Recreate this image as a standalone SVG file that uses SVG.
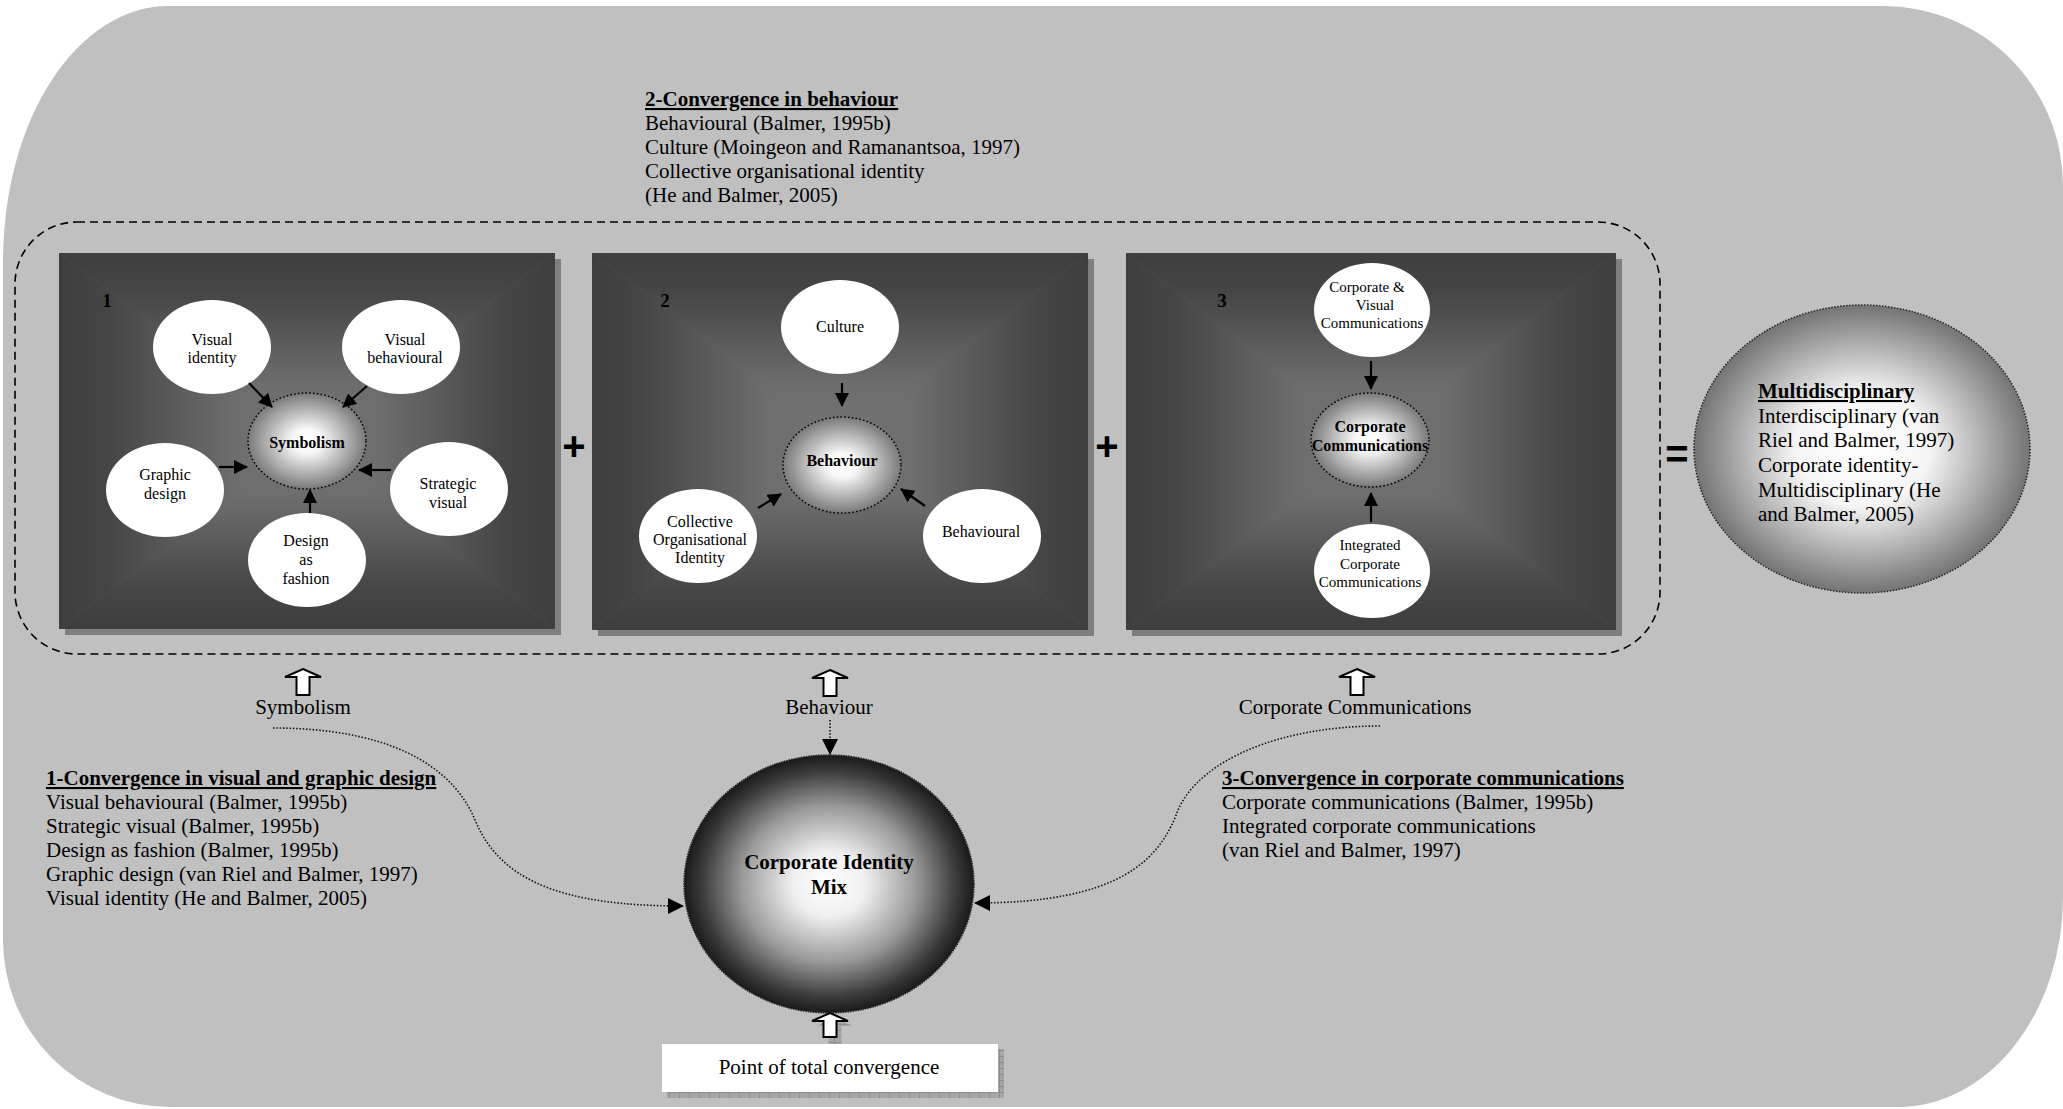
<svg xmlns="http://www.w3.org/2000/svg" width="2063" height="1109" viewBox="0 0 2063 1109">
<style>
.t{font-family:"Liberation Serif","Times New Roman",serif;fill:#000}
.s15{font-size:15px}.s16{font-size:16px}.s19{font-size:19px}.s21{font-size:21px}
.b{font-weight:bold}.u{text-decoration:underline}.m{text-anchor:middle}
.sym{font-family:"Liberation Sans",Arial,sans-serif;font-weight:bold;font-size:40px;text-anchor:middle;fill:#000}
.bub{fill:#fff}
.dotc{stroke:#000;stroke-width:1.5;stroke-dasharray:1.6 2.2}
.arr{stroke:#000;stroke-width:2.2;fill:none;marker-end:url(#ah)}
.dcon{stroke:#111;stroke-width:1.6;stroke-dasharray:1.5 1.8;fill:none;marker-end:url(#ah2)}
.blk{fill:#fff;stroke:#000;stroke-width:2;stroke-linejoin:miter}
.shadow{fill:#7f7f7f}
</style>
<defs>
<linearGradient id="gT" x1="0" y1="0" x2="0" y2="1"><stop offset="0" stop-color="#3e3e3e"/><stop offset="0.2" stop-color="#454545"/><stop offset="0.7" stop-color="#6d6d6d"/><stop offset="1" stop-color="#757575"/></linearGradient>
<linearGradient id="gB" x1="0" y1="1" x2="0" y2="0"><stop offset="0" stop-color="#3e3e3e"/><stop offset="0.2" stop-color="#454545"/><stop offset="0.7" stop-color="#6d6d6d"/><stop offset="1" stop-color="#757575"/></linearGradient>
<linearGradient id="gL" x1="0" y1="0" x2="1" y2="0"><stop offset="0" stop-color="#3e3e3e"/><stop offset="0.2" stop-color="#454545"/><stop offset="0.7" stop-color="#6d6d6d"/><stop offset="1" stop-color="#757575"/></linearGradient>
<linearGradient id="gR" x1="1" y1="0" x2="0" y2="0"><stop offset="0" stop-color="#3e3e3e"/><stop offset="0.2" stop-color="#454545"/><stop offset="0.7" stop-color="#6d6d6d"/><stop offset="1" stop-color="#757575"/></linearGradient>
<radialGradient id="gCore" cx="0.5" cy="0.5" r="0.5"><stop offset="0" stop-color="#ffffff"/><stop offset="0.25" stop-color="#f8f8f8"/><stop offset="1" stop-color="#7a7a7a"/></radialGradient>
<radialGradient id="gMulti" cx="0.5" cy="0.5" r="0.5"><stop offset="0" stop-color="#ffffff"/><stop offset="0.4" stop-color="#f5f5f5"/><stop offset="1" stop-color="#747474"/></radialGradient>
<radialGradient id="gCIM" cx="0.5" cy="0.5" r="0.5"><stop offset="0" stop-color="#ffffff"/><stop offset="0.25" stop-color="#f0f0f0"/><stop offset="0.6" stop-color="#9a9a9a"/><stop offset="0.88" stop-color="#3a3a3a"/><stop offset="1" stop-color="#1a1a1a"/></radialGradient>
<pattern id="hatch" width="10" height="6" patternUnits="userSpaceOnUse"><rect width="10" height="6" fill="#a6a6a6"/><path d="M0,0.5 H10 M9.5,0 V6" stroke="#8e8e8e" stroke-width="1"/></pattern>
<marker id="ah" viewBox="0 0 14 14" refX="13" refY="7" markerWidth="14" markerHeight="14" markerUnits="userSpaceOnUse" orient="auto"><path d="M0,0 L14,7 L0,14 Z" fill="#000"/></marker>
<marker id="ah2" viewBox="0 0 16 16" refX="15" refY="8" markerWidth="16" markerHeight="16" markerUnits="userSpaceOnUse" orient="auto"><path d="M0,0 L16,8 L0,16 Z" fill="#000"/></marker>
</defs>

<g id="background">
<path d="M168,6 L1883,6 A180,180 0 0 1 2063,186 L2063,897 A165,210 0 0 1 1898,1107 L170,1107 A167,167 0 0 1 3,940 L3,261 A165,255 0 0 1 168,6 Z" fill="#c0c0c0"/>
</g>

<g id="convergence-frame">
<rect x="15" y="222" width="1645" height="432" rx="62" ry="62" fill="none" stroke="#000" stroke-width="1.6" stroke-dasharray="8 5"/>
</g>

<g id="panel1">
<rect class="shadow" x="65" y="259" width="496" height="376"/>
<rect x="59" y="253" width="496" height="376" fill="#5a5a5a"/>
<polygon points="59,253 555,253 307,441" fill="url(#gT)"/>
<polygon points="59,629 555,629 307,441" fill="url(#gB)"/>
<polygon points="59,253 59,629 307,441" fill="url(#gL)"/>
<polygon points="555,253 555,629 307,441" fill="url(#gR)"/>
<text class="t s19 b m" x="107" y="307">1</text>
</g>

<g id="panel2">
<rect class="shadow" x="598" y="259" width="496" height="377"/>
<rect x="592" y="253" width="496" height="377" fill="#5a5a5a"/>
<polygon points="592,253 1088,253 840,441.5" fill="url(#gT)"/>
<polygon points="592,630 1088,630 840,441.5" fill="url(#gB)"/>
<polygon points="592,253 592,630 840,441.5" fill="url(#gL)"/>
<polygon points="1088,253 1088,630 840,441.5" fill="url(#gR)"/>
<text class="t s19 b m" x="665" y="307">2</text>
</g>

<g id="panel3">
<rect class="shadow" x="1132" y="259" width="490" height="377"/>
<rect x="1126" y="253" width="490" height="377" fill="#5a5a5a"/>
<polygon points="1126,253 1616,253 1371,441.5" fill="url(#gT)"/>
<polygon points="1126,630 1616,630 1371,441.5" fill="url(#gB)"/>
<polygon points="1126,253 1126,630 1371,441.5" fill="url(#gL)"/>
<polygon points="1616,253 1616,630 1371,441.5" fill="url(#gR)"/>
<text class="t s19 b m" x="1222" y="307">3</text>
</g>

<g id="node-visual-identity">
<ellipse class="bub" cx="212" cy="347" rx="59" ry="47"/>
<text class="t s16 m" x="212" y="345">Visual</text>
<text class="t s16 m" x="212" y="363">identity</text>
</g>
<g id="node-visual-behavioural">
<ellipse class="bub" cx="401" cy="347" rx="59" ry="47"/>
<text class="t s16 m" x="405" y="345">Visual</text>
<text class="t s16 m" x="405" y="363">behavioural</text>
</g>
<g id="node-symbolism">
<ellipse cx="307" cy="441" rx="59" ry="48" fill="url(#gCore)" class="dotc"/>
<text class="t s16 b m" x="307" y="448">Symbolism</text>
</g>
<g id="node-graphic-design">
<ellipse class="bub" cx="165" cy="490" rx="59" ry="47"/>
<text class="t s16 m" x="165" y="480">Graphic</text>
<text class="t s16 m" x="165" y="499">design</text>
</g>
<g id="node-strategic-visual">
<ellipse class="bub" cx="449" cy="489" rx="59" ry="47"/>
<text class="t s16 m" x="448" y="489">Strategic</text>
<text class="t s16 m" x="448" y="508">visual</text>
</g>
<g id="node-design-fashion">
<ellipse class="bub" cx="307" cy="560" rx="59" ry="47"/>
<text class="t s16 m" x="306" y="546">Design</text>
<text class="t s16 m" x="306" y="565">as</text>
<text class="t s16 m" x="306" y="584">fashion</text>
</g>

<g id="node-culture">
<ellipse class="bub" cx="840" cy="327" rx="59" ry="47"/>
<text class="t s16 m" x="840" y="332">Culture</text>
</g>
<g id="node-behaviour">
<ellipse cx="842" cy="465" rx="59" ry="48" fill="url(#gCore)" class="dotc"/>
<text class="t s16 b m" x="842" y="466">Behaviour</text>
</g>
<g id="node-collective">
<ellipse class="bub" cx="698" cy="536" rx="59" ry="47"/>
<text class="t s16 m" x="700" y="527">Collective</text>
<text class="t s16 m" x="700" y="545">Organisational</text>
<text class="t s16 m" x="700" y="563">Identity</text>
</g>
<g id="node-behavioural">
<ellipse class="bub" cx="982" cy="536" rx="59" ry="47"/>
<text class="t s16 m" x="981" y="537">Behavioural</text>
</g>

<g id="node-corp-visual">
<ellipse class="bub" cx="1372" cy="310" rx="58" ry="47"/>
<text class="t s15 m" x="1367" y="292">Corporate &amp;</text>
<text class="t s15 m" x="1375" y="310">Visual</text>
<text class="t s15 m" x="1372" y="328">Communications</text>
</g>
<g id="node-corp-comm">
<ellipse cx="1370" cy="440" rx="59" ry="47" fill="url(#gCore)" class="dotc"/>
<text class="t s16 b m" x="1370" y="432">Corporate</text>
<text class="t s16 b m" x="1370" y="451">Communications</text>
</g>
<g id="node-integrated">
<ellipse class="bub" cx="1372" cy="571" rx="58" ry="47"/>
<text class="t s15 m" x="1370" y="550">Integrated</text>
<text class="t s15 m" x="1370" y="569">Corporate</text>
<text class="t s15 m" x="1370" y="587">Communications</text>
</g>

<g id="operators">
<text class="sym" x="574" y="460">+</text>
<text class="sym" x="1107" y="460">+</text>
<text class="sym" x="1677" y="468">=</text>
</g>

<g id="node-multidisciplinary">
<ellipse cx="1862" cy="449" rx="168" ry="144" fill="url(#gMulti)" stroke="#222" stroke-width="1.5" stroke-dasharray="1.5 1.5"/>
<text class="t s21 b u" x="1758" y="398">Multidisciplinary</text>
<text class="t s21" x="1758" y="423">Interdisciplinary (van</text>
<text class="t s21" x="1758" y="447">Riel and Balmer, 1997)</text>
<text class="t s21" x="1758" y="472">Corporate identity-</text>
<text class="t s21" x="1758" y="497">Multidisciplinary (He</text>
<text class="t s21" x="1758" y="521">and Balmer, 2005)</text>
</g>

<g id="text-behaviour-convergence">
<text class="t s21 b u" x="645" y="106">2-Convergence in behaviour</text>
<text class="t s21" x="645" y="130">Behavioural (Balmer, 1995b)</text>
<text class="t s21" x="645" y="154">Culture (Moingeon and Ramanantsoa, 1997)</text>
<text class="t s21" x="645" y="178">Collective organisational identity</text>
<text class="t s21" x="645" y="202">(He and Balmer, 2005)</text>
</g>

<g id="text-visual-convergence">
<text class="t s21 b u" x="46" y="785">1-Convergence in visual and graphic design</text>
<text class="t s21" x="46" y="809">Visual behavioural (Balmer, 1995b)</text>
<text class="t s21" x="46" y="833">Strategic visual (Balmer, 1995b)</text>
<text class="t s21" x="46" y="857">Design as fashion (Balmer, 1995b)</text>
<text class="t s21" x="46" y="881">Graphic design (van Riel and Balmer, 1997)</text>
<text class="t s21" x="46" y="905">Visual identity (He and Balmer, 2005)</text>
</g>

<g id="text-comm-convergence">
<text class="t s21 b u" x="1222" y="785">3-Convergence in corporate communications</text>
<text class="t s21" x="1222" y="809">Corporate communications (Balmer, 1995b)</text>
<text class="t s21" x="1222" y="833">Integrated corporate communications</text>
<text class="t s21" x="1222" y="857">(van Riel and Balmer, 1997)</text>
</g>

<g id="node-symbolism-label">
<path class="blk" transform="translate(303,669)" d="M0,0 L18,8 L6.5,8 L6.5,26 L-6.5,26 L-6.5,8 L-18,8 Z"/>
<text class="t s21 m" x="303" y="714">Symbolism</text>
</g>
<g id="node-behaviour-label">
<path class="blk" transform="translate(830,670)" d="M0,0 L18,8 L6.5,8 L6.5,26 L-6.5,26 L-6.5,8 L-18,8 Z"/>
<text class="t s21 m" x="829" y="714">Behaviour</text>
</g>
<g id="node-corpcomm-label">
<path class="blk" transform="translate(1357,669)" d="M0,0 L18,8 L6.5,8 L6.5,26 L-6.5,26 L-6.5,8 L-18,8 Z"/>
<text class="t s21 m" x="1355" y="714">Corporate Communications</text>
</g>

<g id="node-cim">
<ellipse cx="829" cy="884" rx="145" ry="129" fill="url(#gCIM)" stroke="#2a2a2a" stroke-width="1.5" stroke-dasharray="1.5 1"/>
<text class="t s21 b m" x="829" y="869">Corporate Identity</text>
<text class="t s21 b m" x="829" y="894">Mix</text>
</g>

<g id="node-total-convergence">
<path transform="translate(835,1018)" d="M0,0 L18,8 L6.5,8 L6.5,26 L-6.5,26 L-6.5,8 L-18,8 Z" fill="url(#hatch)"/>
<path class="blk" transform="translate(830,1013)" d="M0,0 L18,8 L6.5,8 L6.5,24 L-6.5,24 L-6.5,8 L-18,8 Z"/>
<rect x="667" y="1049" width="337" height="49" fill="url(#hatch)"/>
<rect x="662" y="1044" width="336" height="48" fill="#fff"/>
<text class="t s21 m" x="829" y="1074">Point of total convergence</text>
</g>

<g id="connectors">
<line class="arr" x1="249" y1="383" x2="272" y2="407"/>
<line class="arr" x1="367" y1="386" x2="343" y2="407"/>
<line class="arr" x1="219" y1="467" x2="247" y2="467"/>
<line class="arr" x1="391" y1="470" x2="359" y2="470"/>
<line class="arr" x1="310" y1="513" x2="310" y2="490"/>
<line class="arr" x1="842" y1="383" x2="842" y2="406"/>
<line class="arr" x1="758" y1="508" x2="781" y2="494"/>
<line class="arr" x1="925" y1="506" x2="901" y2="489"/>
<line class="arr" x1="1371" y1="361" x2="1371" y2="389"/>
<line class="arr" x1="1371" y1="522" x2="1371" y2="493"/>
<path class="dcon" d="M273,728 C380,728 450,760 475,820 C500,880 560,906 683,906"/>
<path class="dcon" d="M1380,726 C1280,726 1200,760 1178,810 C1160,860 1120,903 975,903"/>
<path class="dcon" d="M830,720 L830,754"/>
</g>
</svg>
